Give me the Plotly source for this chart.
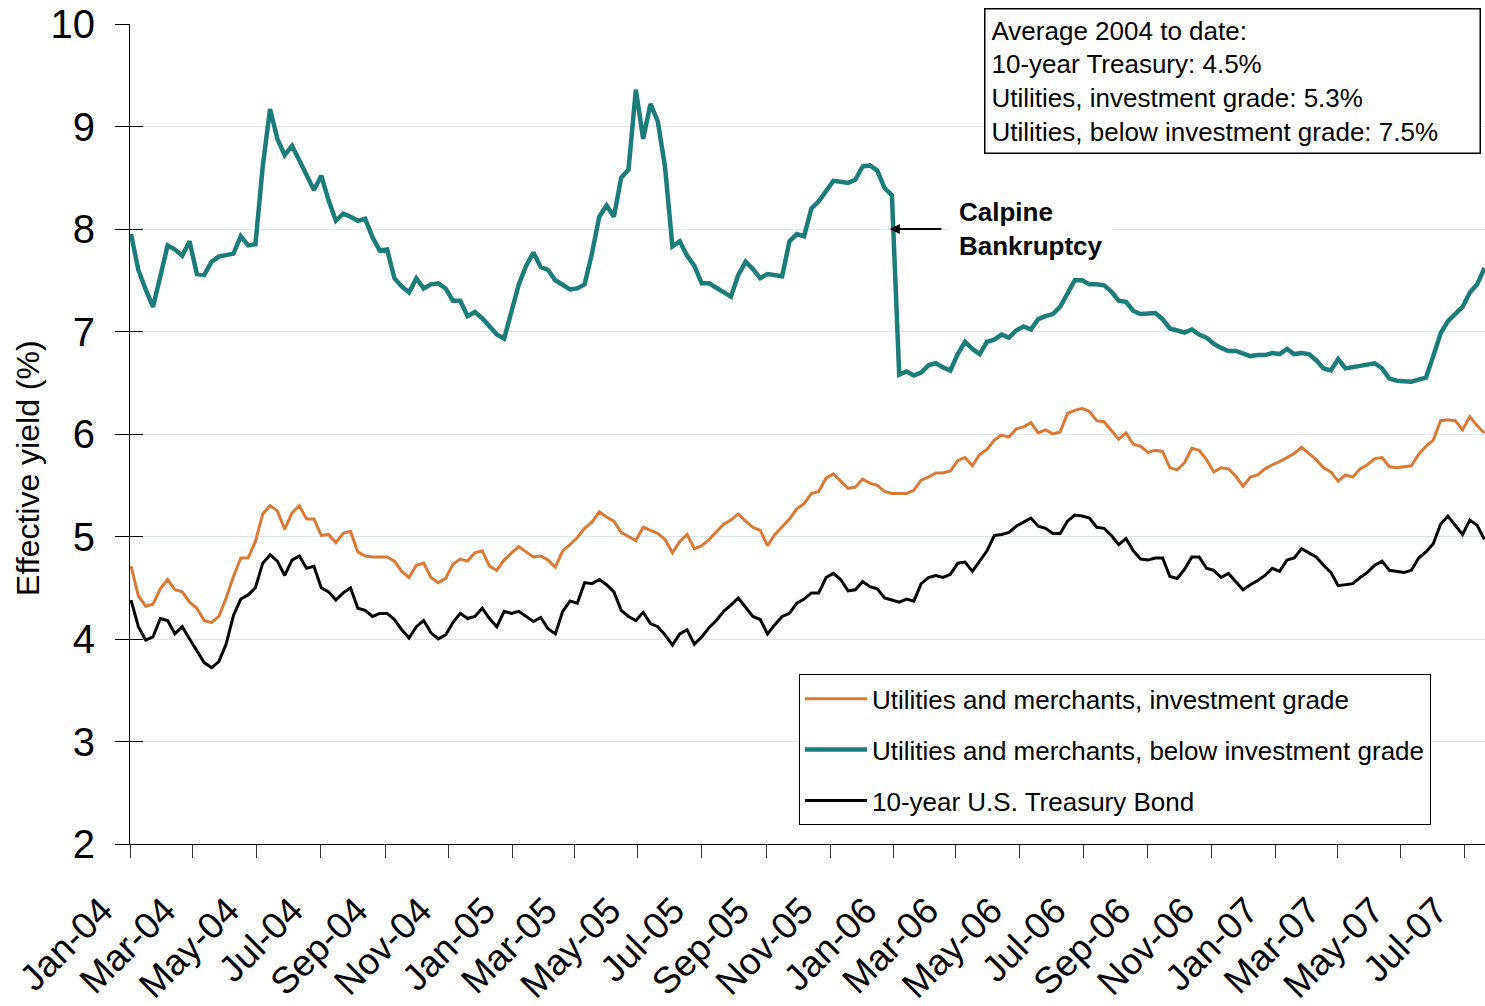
import pandas as pd
import plotly.graph_objects as go

# Weekly observation dates (Jan 2004 - Jul 2007)
dates = pd.date_range("2004-01-02", periods=186, freq="7D")

below_ig = [
    7.95, 7.60, 7.41, 7.24, 7.54, 7.84, 7.80, 7.74, 7.88, 7.56,
    7.55, 7.68, 7.73, 7.75, 7.76, 7.93, 7.84, 7.85, 8.61, 9.17,
    8.88, 8.72, 8.81, 8.67, 8.52, 8.38, 8.52, 8.28, 8.08, 8.15,
    8.12, 8.08, 8.10, 7.92, 7.79, 7.80, 7.52, 7.44, 7.38, 7.52,
    7.42, 7.46, 7.47, 7.42, 7.30, 7.30, 7.15, 7.19, 7.13, 7.05,
    6.97, 6.93, 7.20, 7.46, 7.64, 7.77, 7.63, 7.60, 7.50, 7.45,
    7.41, 7.42, 7.46, 7.76, 8.12, 8.23, 8.12, 8.50, 8.58, 9.36,
    8.88, 9.22, 9.05, 8.60, 7.83, 7.88, 7.74, 7.64, 7.47, 7.47,
    7.43, 7.39, 7.34, 7.55, 7.68, 7.61, 7.52, 7.56, 7.55, 7.54,
    7.88, 7.95, 7.93, 8.20, 8.27, 8.38, 8.47, 8.46, 8.45, 8.48,
    8.61, 8.62, 8.57, 8.40, 8.33, 6.58, 6.61, 6.57, 6.60, 6.67,
    6.69, 6.65, 6.62, 6.78, 6.90, 6.83, 6.78, 6.90, 6.92, 6.97,
    6.94, 7.01, 7.05, 7.02, 7.12, 7.15, 7.17, 7.24, 7.36, 7.50,
    7.50, 7.46, 7.46, 7.45, 7.39, 7.30, 7.29, 7.20, 7.17, 7.17,
    7.18, 7.12, 7.03, 7.01, 6.99, 7.02, 6.97, 6.94, 6.88, 6.84,
    6.81, 6.81, 6.78, 6.76, 6.77, 6.77, 6.79, 6.78, 6.83, 6.78,
    6.79, 6.78, 6.72, 6.64, 6.62, 6.73, 6.64, 6.65, 6.67, 6.67,
    6.69, 6.64, 6.54, 6.52, 6.52, 6.51, 6.53, 6.55, 6.76, 6.98,
    7.10, 7.17, 7.24, 7.38, 7.46, 7.62,
]

inv_grade = [
    4.71, 4.42, 4.32, 4.34, 4.49, 4.58, 4.48, 4.46, 4.36, 4.30,
    4.18, 4.16, 4.22, 4.40, 4.61, 4.79, 4.79, 4.95, 5.22, 5.30,
    5.25, 5.07, 5.23, 5.30, 5.17, 5.17, 5.01, 5.02, 4.94, 5.03,
    5.05, 4.85, 4.81, 4.80, 4.80, 4.80, 4.76, 4.66, 4.60, 4.72,
    4.74, 4.60, 4.55, 4.59, 4.73, 4.78, 4.76, 4.84, 4.86, 4.71,
    4.67, 4.77, 4.84, 4.90, 4.85, 4.80, 4.81, 4.77, 4.70, 4.86,
    4.92, 4.99, 5.08, 5.14, 5.24, 5.19, 5.15, 5.04, 5.00, 4.96,
    5.09, 5.06, 5.03, 4.97, 4.84, 4.95, 5.02, 4.88, 4.91, 4.97,
    5.04, 5.12, 5.16, 5.22, 5.15, 5.09, 5.06, 4.91, 5.02, 5.09,
    5.17, 5.27, 5.32, 5.42, 5.44, 5.57, 5.61, 5.54, 5.47, 5.48,
    5.56, 5.52, 5.50, 5.44, 5.42, 5.42, 5.42, 5.45, 5.55, 5.58,
    5.62, 5.62, 5.64, 5.74, 5.77, 5.69, 5.80, 5.85, 5.94, 5.99,
    5.97, 6.05, 6.07, 6.11, 6.01, 6.04, 6.00, 6.02, 6.20, 6.23,
    6.25, 6.22, 6.13, 6.12, 6.04, 5.95, 6.01, 5.90, 5.88, 5.82,
    5.84, 5.83, 5.67, 5.65, 5.72, 5.86, 5.84, 5.75, 5.63, 5.67,
    5.66, 5.59, 5.49, 5.58, 5.60, 5.66, 5.70, 5.73, 5.77, 5.81,
    5.87, 5.81, 5.75, 5.67, 5.63, 5.54, 5.60, 5.58, 5.66, 5.70,
    5.76, 5.77, 5.68, 5.67, 5.68, 5.69, 5.80, 5.88, 5.94, 6.13,
    6.14, 6.13, 6.04, 6.17, 6.08, 6.01,
]

treasury = [
    4.38, 4.12, 3.99, 4.02, 4.20, 4.18, 4.05, 4.12, 4.00, 3.88,
    3.77, 3.72, 3.78, 3.95, 4.23, 4.39, 4.43, 4.50, 4.74, 4.82,
    4.76, 4.62, 4.77, 4.81, 4.69, 4.71, 4.50, 4.46, 4.38, 4.45,
    4.50, 4.30, 4.28, 4.22, 4.25, 4.25, 4.19, 4.09, 4.01, 4.12,
    4.18, 4.06, 4.00, 4.04, 4.16, 4.25, 4.20, 4.22, 4.30, 4.20,
    4.12, 4.27, 4.25, 4.27, 4.22, 4.17, 4.21, 4.10, 4.05, 4.27,
    4.37, 4.35, 4.55, 4.54, 4.58, 4.53, 4.46, 4.28, 4.22, 4.18,
    4.26, 4.15, 4.12, 4.04, 3.94, 4.05, 4.09, 3.95, 4.02, 4.11,
    4.18, 4.27, 4.33, 4.40, 4.31, 4.22, 4.19, 4.05, 4.14, 4.22,
    4.25, 4.35, 4.39, 4.45, 4.45, 4.60, 4.64, 4.58, 4.47, 4.48,
    4.56, 4.51, 4.49, 4.40, 4.38, 4.36, 4.39, 4.37, 4.54, 4.60,
    4.62, 4.60, 4.63, 4.74, 4.75, 4.66, 4.76, 4.86, 5.01, 5.02,
    5.04, 5.10, 5.14, 5.18, 5.10, 5.08, 5.03, 5.03, 5.15, 5.21,
    5.20, 5.18, 5.09, 5.08, 5.01, 4.92, 4.98, 4.86, 4.78, 4.77,
    4.79, 4.79, 4.61, 4.59, 4.68, 4.80, 4.80, 4.69, 4.67, 4.60,
    4.64, 4.56, 4.48, 4.53, 4.57, 4.62, 4.69, 4.66, 4.77, 4.79,
    4.88, 4.84, 4.80, 4.72, 4.65, 4.52, 4.53, 4.54, 4.60, 4.65,
    4.72, 4.76, 4.67, 4.66, 4.65, 4.67, 4.79, 4.85, 4.93, 5.12,
    5.20, 5.11, 5.02, 5.16, 5.11, 4.97,
]

tick_dates = pd.date_range("2004-01-01", "2007-07-01", freq="2MS")
tick_labels = [d.strftime("%b-%y") for d in tick_dates]

series_names = [
    "Utilities and merchants, investment grade",
    "Utilities and merchants, below investment grade",
    "10-year U.S. Treasury Bond",
]
avg_lines = [
    "Average 2004 to date:",
    "10-year Treasury: 4.5%",
    "Utilities, investment grade: 5.3%",
    "Utilities, below investment grade: 7.5%",
]

ORANGE = "#d77a36"
TEAL = "#1b7c79"
BLACK = "#000000"
FONT = "Liberation Sans, Arial, sans-serif"

fig = go.Figure()
fig.add_trace(go.Scatter(x=dates, y=inv_grade, mode="lines", name=series_names[0],
                         line=dict(color=ORANGE, width=3), legendgroup="a"))
fig.add_trace(go.Scatter(x=dates, y=below_ig, mode="lines", name=series_names[1],
                         line=dict(color=TEAL, width=4.5), legendgroup="b"))
fig.add_trace(go.Scatter(x=dates, y=treasury, mode="lines", name=series_names[2],
                         line=dict(color=BLACK, width=3), legendgroup="c"))
# helper axis for the inward half of the crossing y ticks
fig.add_trace(go.Scatter(x=[dates[0]], y=[None], yaxis="y2", showlegend=False,
                         hoverinfo="skip", mode="lines"))

fig.update_layout(
    width=1485, height=1006,
    margin=dict(l=130, r=0, t=24, b=160),
    paper_bgcolor="white", plot_bgcolor="white",
    font=dict(family=FONT, color="black"),
    xaxis=dict(
        type="date", range=["2004-01-01", "2007-07-20 12:00"],
        tickvals=tick_dates, ticktext=tick_labels, tickangle=-45,
        tickfont=dict(size=37), ticks="outside", ticklen=13, tickcolor="#333",
        ticklabelstandoff=16, ticklabelshift=-28,
        showline=True, linecolor="black", linewidth=1,
        showgrid=False, zeroline=False,
    ),
    yaxis=dict(
        range=[2, 10], tick0=2, dtick=1,
        showgrid=True, gridcolor="#d7e6e6", gridwidth=1,
        ticks="outside", ticklen=14, tickcolor="black",
        showline=True, linecolor="black", linewidth=1,
        tickfont=dict(size=40), ticklabelstandoff=12, zeroline=False,
    ),
    yaxis2=dict(
        range=[2, 10], tick0=2, dtick=1, overlaying="y", side="left", anchor="x",
        ticks="inside", ticklen=13, tickcolor="black",
        showticklabels=False, showgrid=False, showline=False, zeroline=False,
    ),
    legend=dict(
        x=0.4937, y=0.2068, xanchor="left", yanchor="top",
        bordercolor="black", borderwidth=1, bgcolor="white",
        font=dict(size=26), traceorder="grouped", tracegroupgap=14,
        itemwidth=62,
    ),
    showlegend=True,
)

fig.add_annotation(
    text="Effective yield (%)", textangle=-90, showarrow=False,
    xref="paper", yref="paper", x=-0.0753, y=0.4586,
    xanchor="center", yanchor="middle", font=dict(size=32),
)
fig.add_annotation(
    text="<br>".join(avg_lines), showarrow=False, align="left",
    xref="paper", yref="paper", x=0.997, y=1.0195,
    xanchor="right", yanchor="top", width=482,
    bordercolor="black", borderwidth=1.5, borderpad=6, bgcolor="white",
    font=dict(size=26),
)
fig.add_annotation(
    text="<b>Calpine</b><br><b>Bankruptcy</b>", align="left",
    x="2005-12-28", y=8, xref="x", yref="y",
    ax=141, ay=0, showarrow=True, arrowhead=2, arrowsize=1, arrowwidth=2,
    arrowcolor="black", bgcolor="white", borderpad=9, startstandoff=8,
    font=dict(size=26),
)

fig.write_html(
    "out.html",
    config={"displayModeBar": False},
    post_script="document.body.style.margin='0px';document.body.style.overflow='hidden';",
)
